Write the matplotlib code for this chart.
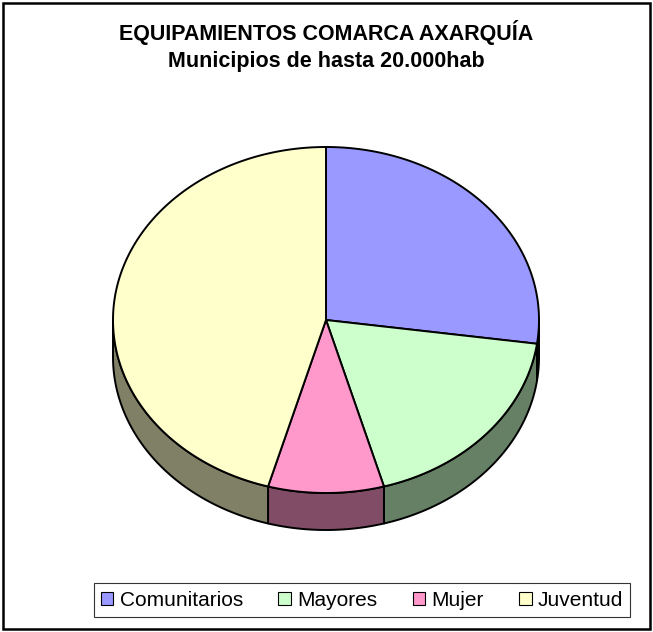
import numpy as np
import matplotlib.pyplot as plt
from matplotlib.patches import Polygon, Patch, Rectangle

categories = ['Comunitarios', 'Mayores', 'Mujer', 'Juventud']
values = [31, 21, 10, 52]
top_colors = ['#9999FF', '#CCFFCC', '#FF99CC', '#FFFFCC']
side_colors = ['#4C4C80', '#668066', '#804C66', '#808066']

title = 'EQUIPAMIENTOS COMARCA AXARQUÍA\nMunicipios de hasta 20.000hab'

plt.rcParams['font.family'] = ['Liberation Sans', 'DejaVu Sans']

W, H = 653, 632
fig = plt.figure(figsize=(W / 100, H / 100), dpi=100)
ax = fig.add_axes([0, 0, 1, 1])
ax.set_xlim(0, W)
ax.set_ylim(H, 0)
ax.axis('off')

# pie geometry in pixel units
cx, cy = 326, 320
rx, ry = 213, 173
depth = 37


def arc(t0, t1, n=200, dy=0):
    # angle clockwise from 12 o'clock
    t = np.linspace(t0, t1, n)
    return np.column_stack([cx + rx * np.sin(t), cy - ry * np.cos(t) + dy])


frac = np.array(values) / np.sum(values)
bounds = np.concatenate([[0], np.cumsum(frac)]) * 2 * np.pi

# side walls (only front half is visible)
for i in range(len(values)):
    a0 = max(bounds[i], np.pi / 2)
    a1 = min(bounds[i + 1], 3 * np.pi / 2)
    if a1 <= a0:
        continue
    top = arc(a0, a1)
    bot = arc(a0, a1, dy=depth)[::-1]
    ax.add_patch(Polygon(np.vstack([top, bot]), closed=True,
                         facecolor=side_colors[i], edgecolor='black',
                         linewidth=1.4, joinstyle='round'))

# top faces
for i in range(len(values)):
    pts = np.vstack([[cx, cy], arc(bounds[i], bounds[i + 1])])
    ax.add_patch(Polygon(pts, closed=True, facecolor=top_colors[i],
                         edgecolor='black', linewidth=1.4, joinstyle='round'))

ax.text(W / 2, 46, title, ha='center', va='center', fontsize=15.5,
        fontweight='bold', linespacing=1.35)

handles = [Patch(facecolor=c, edgecolor='black', linewidth=0.8) for c in top_colors]
leg = fig.legend(handles, categories, ncol=4, loc='center',
                 bbox_to_anchor=(362 / W, 1 - 600 / H), fontsize=15,
                 frameon=True, fancybox=False, edgecolor='black',
                 handlelength=0.6, handleheight=0.6, handletextpad=0.3,
                 columnspacing=1.7, borderpad=0.35, borderaxespad=0)
leg.get_frame().set_linewidth(0.8)

# outer chart border
ax.add_patch(Rectangle((3, 3), W - 6, H - 6, fill=False,
                       edgecolor='black', linewidth=1.8))

fig.savefig('out.png', dpi=100)
